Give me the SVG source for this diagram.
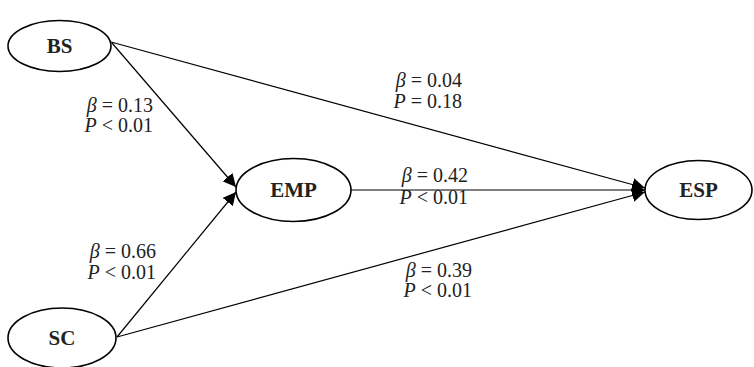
<svg xmlns="http://www.w3.org/2000/svg" width="754" height="367" viewBox="0 0 754 367">
<style>
.node ellipse{fill:#fff;stroke:#000;stroke-width:1.6}
.node text{font-family:'Liberation Serif','Times New Roman',Tinos,'DejaVu Serif',serif;font-weight:bold;font-size:21px;text-anchor:middle;fill:#222}
.edge{stroke:#000;stroke-width:1.2;fill:none}
.lbl{font-family:'Liberation Serif','Times New Roman',Tinos,'DejaVu Serif',serif;font-size:20px;text-anchor:end;fill:#222}
.it{font-style:italic}
</style>
<defs>
<marker id="arr" viewBox="0 0 10 10" refX="10" refY="5" markerWidth="13" markerHeight="13" markerUnits="userSpaceOnUse" orient="auto">
<path d="M0,0 L10,5 L0,10 Z" fill="#000"/>
</marker>
</defs>
<g id="connectors">
<line class="edge" x1="111" y1="42" x2="645" y2="188" marker-end="url(#arr)"/>
<line class="edge" x1="112" y1="43" x2="236" y2="187" marker-end="url(#arr)"/>
<line class="edge" x1="117" y1="337" x2="236" y2="192" marker-end="url(#arr)"/>
<line class="edge" x1="117" y1="337" x2="645" y2="192" marker-end="url(#arr)"/>
<line class="edge" x1="351" y1="190" x2="645" y2="190" marker-end="url(#arr)"/>
</g>
<g id="labels">
<text class="lbl" x="153" y="112"><tspan class="it">β</tspan> = 0.13</text>
<text class="lbl" x="153" y="132"><tspan class="it">P</tspan> &lt; 0.01</text>
<text class="lbl" x="462" y="87"><tspan class="it">β</tspan> = 0.04</text>
<text class="lbl" x="462" y="108"><tspan class="it">P</tspan> = 0.18</text>
<text class="lbl" x="468" y="182"><tspan class="it">β</tspan> = 0.42</text>
<text class="lbl" x="468" y="204"><tspan class="it">P</tspan> &lt; 0.01</text>
<text class="lbl" x="156" y="258"><tspan class="it">β</tspan> = 0.66</text>
<text class="lbl" x="156" y="279"><tspan class="it">P</tspan> &lt; 0.01</text>
<text class="lbl" x="472" y="277"><tspan class="it">β</tspan> = 0.39</text>
<text class="lbl" x="472" y="297"><tspan class="it">P</tspan> &lt; 0.01</text>
</g>
<g id="BS" class="node"><ellipse cx="59.5" cy="46" rx="51.5" ry="25.5"/><text x="59.5" y="53">BS</text></g>
<g id="SC" class="node"><ellipse cx="62" cy="338" rx="54" ry="30"/><text x="62" y="345">SC</text></g>
<g id="EMP" class="node"><ellipse cx="293.5" cy="190" rx="57.5" ry="31.5"/><text x="293.5" y="197">EMP</text></g>
<g id="ESP" class="node"><ellipse cx="698.5" cy="190" rx="53.5" ry="29.5"/><text x="698.5" y="197">ESP</text></g>
</svg>
